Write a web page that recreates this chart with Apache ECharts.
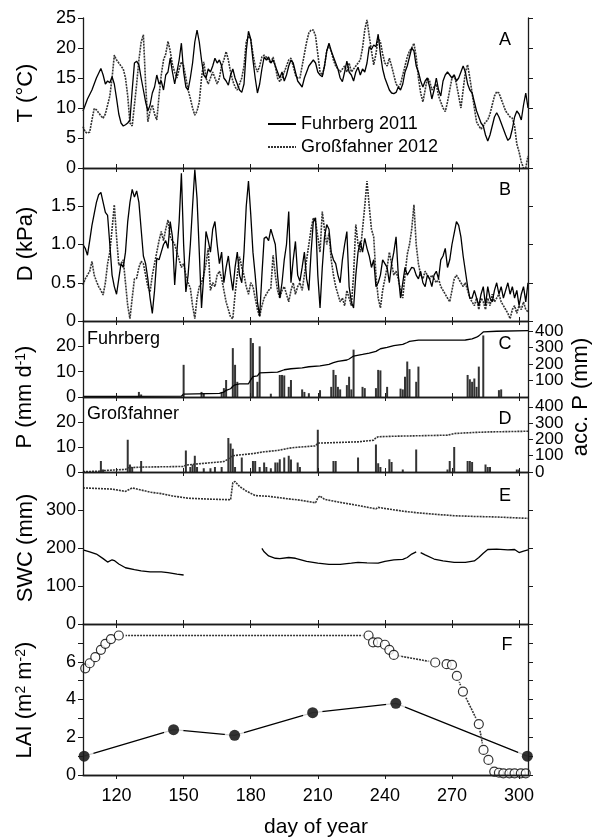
<!DOCTYPE html>
<html>
<head>
<meta charset="utf-8">
<script src="https://cdn.jsdelivr.net/npm/echarts@6/dist/echarts.min.js"></script>
<style>
  html, body { margin: 0; padding: 0; background: #fff; }
  #chart { width: 592px; height: 840px; }
</style>
</head>
<body>
<div id="chart"></div>
<script>
// ---- data (day of year, value) ----
const xTicks = [120, 150, 180, 210, 240, 270, 300];

// A: air temperature (°C)
const tFuhr = [[105,9.5],[106,10.5],[107,11.5],[109,13],[111,15],[113,16.6],[114,15.5],[115,14],[116,14.5],[117,14.2],[118,15.2],[119,14],[120,11.6],[121,9],[122,7.5],[123,7],[124,7.2],[125,7.5],[126,8],[127,13],[128,17.5],[129,17.8],[130,17.2],[131,15],[132,13],[133,11],[134,9.5],[135,10.5],[136,12.5],[137,13.5],[138,15.5],[139,14],[140,14.5],[141,13],[142,15.5],[143,16],[144,18.3],[145,16],[146,14],[147,16],[148,18],[149,20.8],[150,16],[151,13.5],[152,13],[153,15],[154,17.5],[155,21],[156,23],[157,21],[158,18],[159,15.5],[160,15],[161,16.5],[162,16],[163,17],[164,18.3],[165,17.5],[166,18],[167,17],[168,15],[169,14.5],[170,13.8],[171,15.5],[172,16.5],[173,15],[174,14],[175,13],[176,12.6],[177,14],[178,19.5],[179,22.8],[180,21.5],[181,18],[182,15],[183,12.5],[184,14],[185,16.5],[186,18.5],[187,18],[188,18.5],[189,17.5],[190,18],[191,17],[192,16],[193,15],[194,16],[195,14.5],[196,15.5],[197,17],[198,18],[199,17.5],[200,16],[201,14.5],[202,14],[203,13.5],[204,15],[205,16],[206,17],[207,17.5],[208,18],[209,17.5],[210,16],[211,15.5],[212,15.2],[213,17],[214,19.5],[215,20.8],[216,19.5],[217,18.5],[218,17.5],[219,16.5],[220,15],[221,14.4],[222,16],[223,17.8],[224,16],[225,15.5],[226,14.5],[227,16],[228,16.8],[229,15.5],[230,16.5],[231,16],[232,17.5],[233,20.2],[234,19.8],[235,20.5],[236,20.2],[237,22.3],[238,19],[239,16.5],[240,15],[241,14],[242,13],[243,12.5],[244,12.4],[245,12.6],[246,13.5],[247,13],[248,14],[249,16],[250,17],[251,18.5],[252,20],[253,19.5],[254,17],[255,16],[256,14.5],[257,13.5],[258,14.5],[259,15],[260,13.5],[261,11.5],[262,13],[263,15],[264,13],[265,12],[266,14.5],[267,15.5],[268,16],[269,15.5],[270,15],[271,15.5],[272,14.5],[273,15],[274,16],[275,17],[276,16],[277,14],[278,13],[279,12.5],[280,11],[281,9.5],[282,8.5],[283,7.5],[284,7],[285,5.5],[286,4.5],[287,5.5],[288,7],[289,8.5],[290,9.2],[291,8.5],[292,7.5],[293,6.5],[294,5.5],[295,4.6],[296,5],[297,6.5],[298,8.5],[299,9.5],[300,9],[301,8],[302,10.5],[303,12.5],[304,10]];
const tGross = [[105,6.9],[106,6],[107,5.8],[108,6],[109,8],[110,9.9],[111,9.7],[112,9.2],[113,8.7],[114,8.3],[115,9],[116,10.5],[117,12],[118,15],[119,18.8],[120,18],[121,17.5],[122,17],[123,16.5],[124,15],[125,12],[126,7.5],[127,7],[128,10.5],[129,14],[130,18],[131,21],[132,22.2],[133,14],[134,7.7],[135,9.5],[136,10.5],[137,9],[138,8],[139,12],[140,15.5],[141,18],[142,19],[143,21.1],[144,19.5],[145,17.2],[146,16],[147,15],[148,16.5],[149,17.7],[150,17],[151,15],[152,13],[153,11.6],[154,10],[155,8.8],[156,9.5],[157,11],[158,15],[159,17.7],[160,15],[161,14],[162,15],[163,16],[164,15],[165,14],[166,15],[167,17],[168,18],[169,19.4],[170,18],[171,16],[172,14.5],[173,13.5],[174,13],[175,14],[176,15],[177,17],[178,21],[179,22],[180,21.5],[181,19],[182,17],[183,16],[184,17],[185,18.5],[186,18.8],[187,18.5],[188,18],[189,17.5],[190,18.5],[191,17],[192,15],[193,14.4],[194,15],[195,16],[196,17],[197,18],[198,18.3],[199,17],[200,15.5],[201,15],[202,15],[203,17],[204,19],[205,21],[206,22.5],[207,23],[208,23],[209,22],[210,19],[211,16],[212,15.5],[213,17],[214,19.5],[215,20.5],[216,19.5],[217,18],[218,17],[219,16.5],[220,16],[221,16.5],[222,17],[223,16],[224,17.5],[225,16],[226,16.5],[227,17],[228,17.5],[229,18],[230,20],[231,23],[232,24.7],[233,22],[234,19.5],[235,17.2],[236,19],[237,21.6],[238,21],[239,19],[240,17.5],[241,17],[242,18.3],[243,17],[244,15.5],[245,14],[246,13.5],[247,14],[248,15.5],[249,17],[250,18.5],[251,19.5],[252,20],[253,20.8],[254,18.5],[255,15],[256,12.5],[257,11],[258,13],[259,15],[260,14.5],[261,13],[262,13.5],[263,14],[264,12],[265,11],[266,10],[267,9.4],[268,11],[269,13],[270,15],[271,15.5],[272,14],[273,12],[274,10],[275,13],[276,16],[277,17.2],[278,15],[279,12.5],[280,10],[281,7.7],[282,7],[283,6.5],[284,7],[285,7.7],[286,8],[287,9],[288,10.5],[289,12],[290,12.7],[291,12.5],[292,11.5],[293,10.5],[294,9.5],[295,9],[296,8.5],[297,8.3],[298,7],[299,4],[300,2.7],[301,1],[302,0],[303,0],[304,2]];

// B: vapour pressure deficit (kPa)
const dFuhr = [[105,1.0],[106,0.95],[107,0.86],[108,1.05],[109,1.25],[110,1.4],[111,1.55],[112,1.65],[113,1.68],[114,1.55],[115,1.42],[116,1.38],[117,1.0],[118,0.6],[119,0.45],[120,0.35],[121,0.55],[122,0.75],[123,0.7],[124,0.9],[125,1.3],[126,1.55],[127,1.72],[128,1.62],[129,1.7],[130,1.55],[131,1.2],[132,0.85],[133,0.75],[134,0.55],[135,0.3],[136,0.1],[137,0.4],[138,0.82],[139,0.8],[140,0.9],[141,1.0],[142,1.05],[143,0.95],[144,1.3],[145,1.1],[146,0.47],[147,0.9],[148,1.3],[149,1.93],[150,1.0],[151,0.38],[152,0.6],[153,1.0],[154,1.5],[155,1.98],[156,1.6],[157,0.9],[158,0.17],[159,0.6],[160,1.17],[161,1.05],[162,0.9],[163,1.2],[164,1.3],[165,1.0],[166,0.75],[167,0.9],[168,0.5],[169,0.7],[170,0.85],[171,0.6],[172,0.4],[173,0.7],[174,0.9],[175,0.6],[176,0.5],[177,0.9],[178,1.5],[179,1.83],[180,1.4],[181,0.9],[182,0.6],[183,0.25],[184,0.06],[185,0.6],[186,1.08],[187,1.1],[188,1.05],[189,1.2],[190,1.1],[191,1.0],[192,0.6],[193,0.3],[194,0.5],[195,0.8],[196,1.0],[197,1.43],[198,0.5],[199,0.8],[200,1.04],[201,0.6],[202,0.52],[203,0.7],[204,0.9],[205,0.55],[206,0.4],[207,0.9],[208,1.3],[209,1.35],[210,0.6],[211,0.17],[212,0.7],[213,1.1],[214,1.26],[215,1.2],[216,0.9],[217,0.8],[218,0.75],[219,0.6],[220,0.5],[221,0.8],[222,1.0],[223,1.17],[224,0.45],[225,0.25],[226,0.17],[227,0.6],[228,0.9],[229,1.04],[230,0.9],[231,1.08],[232,0.95],[233,0.85],[234,0.7],[235,0.8],[236,0.45],[237,0.5],[238,0.6],[239,0.8],[240,0.75],[241,0.7],[242,0.5],[243,0.75],[244,0.9],[245,1.1],[246,0.6],[247,0.3],[248,0.5],[249,0.7],[250,0.6],[251,0.65],[252,0.7],[253,0.69],[254,0.6],[255,0.55],[256,0.65],[257,0.5],[258,0.45],[259,0.6],[260,0.55],[261,0.45],[262,0.6],[263,0.65],[264,0.55],[265,0.8],[266,0.85],[267,0.95],[268,0.7],[269,0.8],[270,1.0],[271,1.15],[272,1.3],[273,1.25],[274,1.1],[275,0.85],[276,0.65],[277,0.45],[278,0.3],[279,0.3],[280,0.4],[281,0.3],[282,0.2],[283,0.35],[284,0.45],[285,0.2],[286,0.45],[287,0.3],[288,0.25],[289,0.4],[290,0.5],[291,0.35],[292,0.45],[293,0.3],[294,0.4],[295,0.5],[296,0.35],[297,0.45],[298,0.3],[299,0.4],[300,0.2],[301,0.35],[302,0.45],[303,0.25],[304,0.5]];
const dGross = [[105,0.47],[106,0.55],[107,0.6],[108,0.65],[109,0.78],[110,0.6],[111,0.52],[112,0.45],[113,0.4],[114,0.34],[115,0.5],[116,0.75],[117,0.9],[118,1.2],[119,1.52],[120,1.1],[121,0.73],[122,0.75],[123,0.8],[124,0.5],[125,0.2],[126,0.03],[127,0.3],[128,0.55],[129,0.56],[130,0.7],[131,0.78],[132,0.75],[133,0.6],[134,0.45],[135,0.38],[136,0.6],[137,0.75],[138,0.9],[139,1.05],[140,1.17],[141,1.05],[142,1.2],[143,1.32],[144,1.1],[145,1.05],[146,1.0],[147,0.9],[148,0.8],[149,0.7],[150,0.75],[151,0.6],[152,0.5],[153,0.43],[154,0.2],[155,0.03],[156,0.3],[157,0.45],[158,0.5],[159,0.6],[160,0.75],[161,0.95],[162,0.4],[163,0.5],[164,0.45],[165,0.6],[166,0.65],[167,0.56],[168,0.4],[169,0.25],[170,0.15],[171,0.05],[172,0.03],[173,0.35],[174,0.6],[175,0.84],[176,0.7],[177,0.6],[178,0.45],[179,0.35],[180,0.5],[181,0.45],[182,0.3],[183,0.15],[184,0.06],[185,0.2],[186,0.3],[187,0.35],[188,0.4],[189,0.43],[190,0.86],[191,0.6],[192,0.4],[193,0.3],[194,0.4],[195,0.45],[196,0.35],[197,0.25],[198,0.4],[199,0.5],[200,0.35],[201,0.45],[202,0.5],[203,0.4],[204,0.6],[205,0.8],[206,1.0],[207,1.2],[208,1.35],[209,1.3],[210,1.1],[211,0.9],[212,1.43],[213,1.2],[214,1.0],[215,1.15],[216,0.8],[217,0.6],[218,0.45],[219,0.35],[220,0.25],[221,0.3],[222,0.2],[223,0.4],[224,0.3],[225,0.2],[226,0.6],[227,1.26],[228,1.0],[229,0.9],[230,1.2],[231,1.5],[232,1.83],[233,1.5],[234,1.2],[235,1.1],[236,0.6],[237,0.3],[238,0.17],[239,0.4],[240,0.55],[241,0.7],[242,0.9],[243,0.75],[244,0.6],[245,0.65],[246,0.55],[247,0.4],[248,0.3],[249,0.6],[250,0.87],[251,1.0],[252,1.2],[253,1.52],[254,1.0],[255,0.75],[256,0.6],[257,0.55],[258,0.65],[259,0.6],[260,0.55],[261,0.6],[262,0.55],[263,0.5],[264,0.55],[265,0.45],[266,0.4],[267,0.35],[268,0.3],[269,0.25],[270,0.4],[271,0.55],[272,0.6],[273,0.55],[274,0.5],[275,0.45],[276,0.5],[277,0.4],[278,0.3],[279,0.25],[280,0.2],[281,0.3],[282,0.15],[283,0.3],[284,0.25],[285,0.15],[286,0.3],[287,0.2],[288,0.35],[289,0.25],[290,0.3],[291,0.35],[292,0.25],[293,0.2],[294,0.15],[295,0.1],[296,0.03],[297,0.15],[298,0.2],[299,0.1],[300,0.2],[301,0.15],[302,0.25],[303,0.15],[304,0.12]];

// C, D: daily precipitation (mm/d) and accumulated precipitation (mm)
const pFuhr = [[130,2],[131,1],[150,12.7],[158,2],[159,1.5],[167,2],[168,3.5],[169,6.7],[172,19.3],[173,12.7],[174,6],[180,23.3],[181,21.3],[183,6],[184,20],[189,1.3],[193,8.7],[194,8.7],[195,8.5],[197,4],[198,6.7],[203,3],[204,2],[206,1.5],[211,2.7],[216,4],[217,10.7],[218,8.7],[219,4],[220,3],[223,4.7],[224,8],[225,3],[226,18.7],[230,4],[231,3.5],[236,3.5],[237,10.7],[238,10.5],[241,4],[247,3.3],[248,3],[249,8],[250,14],[251,11],[254,6],[255,12],[277,8.7],[278,7],[279,6],[280,7.3],[281,4],[282,12],[284,24.3],[291,2.7],[292,3]];
const accFuhr = [[105,3],[149,5],[150,18],[166,22],[168,30],[169,40],[171,50],[172,65],[173,74],[175,79],[179,80],[180,104],[181,123],[183,128],[184,146],[192,150],[193,155],[195,165],[198,171],[203,176],[206,183],[211,189],[215,197],[217,208],[219,216],[223,224],[224,230],[226,248],[230,258],[233,266],[236,276],[238,292],[241,300],[244,311],[248,318],[250,330],[251,337],[255,344],[276,345],[279,352],[281,362],[282,370],[284,394],[290,398],[304,402]];
const pGross = [[113,4.4],[114,1],[125,12.9],[126,3],[127,2],[131,4.4],[151,8.6],[153,2],[154,3],[155,6.5],[156,2],[159,1.5],[162,1.5],[164,2],[167,2],[170,13.6],[171,11.4],[172,9.3],[173,2],[176,5.8],[181,4.4],[182,4.4],[184,2],[186,3.8],[187,2],[189,1.5],[191,3.8],[192,3.8],[193,5.1],[195,5.8],[197,6.5],[198,5],[201,3.8],[202,2],[210,16.9],[217,4.4],[218,4.4],[228,5.8],[236,11],[237,3.5],[238,2],[242,5.1],[243,4],[248,1],[254,9],[268,1],[269,4.4],[271,10],[277,4.4],[278,4.4],[279,4],[285,3],[286,2],[287,2],[299,1],[300,1]];
const accGross = [[105,3],[112,4],[113,8],[124,16],[125,26],[131,30],[150,34],[151,42],[155,48],[168,64],[170,80],[171,92],[172,100],[176,106],[181,113],[186,124],[192,132],[195,140],[197,146],[201,152],[209,160],[210,177],[228,185],[235,195],[236,210],[237,216],[243,219],[254,222],[268,226],[271,236],[279,242],[287,246],[304,250]];

// E: soil water content (mm); '-' marks missing days
const swcFuhr = [[105,195],[108,190],[111,184],[114,172],[116,163],[118,169],[119,167],[121,158],[124,148],[128,143],[131,140],[135,137],[140,137],[143,135],[147,131],[150,129],[151,'-'],[185,199],[186,190],[188,179],[191,173],[193,172],[197,175],[200,173],[205,165],[210,160],[215,157],[220,157],[225,160],[228,162],[232,161],[237,160],[240,165],[244,169],[248,170],[250,175],[252,184],[254,190],[255,'-'],[256,188],[258,182],[262,171],[266,166],[271,162],[276,162],[280,166],[282,175],[284,186],[286,196],[290,197],[295,195],[298,196],[300,188],[302,192],[304,195]];
const swcGross = [[105,358],[110,357],[118,355],[124,349],[127,358],[130,354],[135,347],[140,343],[145,337],[152,331],[160,329],[165,328],[171,327],[172,372],[173,375],[175,362],[178,350],[182,338],[188,336],[196,330],[202,326],[209,319],[210,332],[211,337],[213,328],[220,320],[228,312],[236,303],[237,307],[240,304],[248,297],[254,293],[262,289],[271,285],[280,283],[288,282],[296,280],[304,278]];

// F: leaf area index (m2 m-2)
const laiFuhr = [[105.5,1.0],[145.5,2.4],[172.8,2.1],[207.7,3.3],[244.9,3.8],[303.7,1.0]];
const laiGross = [[106,5.65],[108,5.92],[110.5,6.24],[113,6.63],[115,6.95],[117.5,7.2],[121,7.39],[232.7,7.39],[234.7,7.03],[236.9,7.03],[240,6.9],[242,6.63],[244,6.36],[262.5,5.96],[267.6,5.87],[270,5.83],[272.2,5.25],[274.9,4.42],[282,2.7],[284.1,1.33],[286.3,0.8],[288.9,0.18],[291,0.12],[293,0.09],[295.7,0.09],[298,0.09],[300.8,0.09],[303,0.09]];

// ---- chart ----
const chart = echarts.init(document.getElementById('chart'));
const FONT = 'Liberation Sans';
const INK = '#1a1a1a';

const panels = [
  { top: 18,  h: 150, min: 0, max: 25,  step: 5,   fmt: v => String(v) },
  { top: 168, h: 153, min: 0, max: 2,   step: 0.5, fmt: v => v === 0 ? '0' : (v >= 2 ? '' : v.toFixed(1)) },
  { top: 321, h: 76,  min: 0, max: 30,  step: 10,  fmt: v => v >= 30 ? '' : String(v) },
  { top: 397, h: 75,  min: 0, max: 30,  step: 10,  fmt: v => v >= 30 ? '' : String(v) },
  { top: 472, h: 152, min: 0, max: 400, step: 100, fmt: v => v >= 400 ? '' : String(v) },
  { top: 624, h: 151, min: 0, max: 8,   step: 1,   fmt: v => (v % 2 === 0 && v < 8) ? String(v) : '' }
];

const axisLine = { show: true, lineStyle: { color: INK, width: 1.3 } };
const tickStyle = { color: INK, width: 1 };
const labelStyle = { fontSize: 18, fontFamily: FONT, color: '#000' };
const accLabel = { margin: 7, fontSize: 17, fontFamily: FONT, color: '#000', hideOverlap: false };

const grid = [], xAxis = [], yAxis = [];
panels.forEach((p, i) => {
  grid.push({ left: 83, width: 445, top: p.top, height: p.h });
  const last = i === panels.length - 1;
  xAxis.push({
    type: 'value', gridIndex: i, position: 'bottom', min: 105, max: 304, z: 10,
    axisLine, splitLine: { show: false },
    axisTick: { show: true, customValues: xTicks, inside: !last, length: 4, lineStyle: tickStyle },
    axisLabel: Object.assign({ show: last, customValues: xTicks, margin: 12 }, labelStyle)
  });
  xAxis.push({
    type: 'value', gridIndex: i, position: 'top', min: 105, max: 304, z: 10,
    axisLine, splitLine: { show: false },
    axisTick: { show: true, customValues: xTicks, inside: true, length: 4, lineStyle: tickStyle },
    axisLabel: { show: false }
  });
  yAxis.push({
    type: 'value', gridIndex: i, position: 'left', min: p.min, max: p.max, interval: p.step, z: 10,
    axisLine, splitLine: { show: false },
    axisTick: { show: true, length: 5, lineStyle: tickStyle },
    axisLabel: Object.assign({ formatter: p.fmt, margin: 7, showMinLabel: true, hideOverlap: false }, labelStyle)
  });
  if (i === 2 || i === 3) {
    // accumulated precipitation axis (labels 100-400)
    yAxis.push({
      type: 'value', gridIndex: i, position: 'right', min: 0, max: 460, interval: 100, z: 10,
      axisLine, splitLine: { show: false },
      axisTick: { show: true, length: 5, lineStyle: tickStyle },
      axisLabel: Object.assign({
        showMinLabel: false, showMaxLabel: false,
        formatter: v => (v % 100 === 0 && v > 0 && v <= 400) ? String(v) : ''
      }, accLabel)
    });
  } else {
    yAxis.push({
      type: 'value', gridIndex: i, position: 'right', min: p.min, max: p.max, interval: p.step, z: 10,
      axisLine, splitLine: { show: false },
      axisTick: { show: true, length: 5, lineStyle: tickStyle },
      axisLabel: { show: false }
    });
  }
});
// extra right axis on panel D that only carries the "0" of accumulated P
yAxis.push({
  type: 'value', gridIndex: 3, position: 'right', min: 0, max: 460, interval: 100, z: 10,
  axisLine: { show: false }, axisTick: { show: false }, splitLine: { show: false },
  axisLabel: Object.assign({ showMinLabel: true, showMaxLabel: false, formatter: v => v === 0 ? '0' : '' }, accLabel)
});

const solid = { color: '#000', width: 1.3 };
const dotted = { color: '#333', width: 1.6, type: [2, 1] };
const line = (name, xi, yi, data, style, z) => ({
  name, type: 'line', xAxisIndex: xi, yAxisIndex: yi, data, symbol: 'none',
  lineStyle: style, itemStyle: { color: style.color }, z: z || 2, silent: true, connectNulls: false
});
const bars = (xi, yi, data) => ({
  type: 'bar', xAxisIndex: xi, yAxisIndex: yi, data, barWidth: 2,
  itemStyle: { color: '#333' }, silent: true
});

const series = [
  line('Großfahner 2012', 0, 0, tGross, dotted),
  line('Fuhrberg 2011', 0, 0, tFuhr, solid, 3),
  line('D Großfahner', 2, 2, dGross, dotted),
  line('D Fuhrberg', 2, 2, dFuhr, solid, 3),
  bars(4, 4, pFuhr),
  line('acc Fuhrberg', 4, 5, accFuhr, solid, 3),
  bars(6, 6, pGross),
  line('acc Großfahner', 6, 7, accGross, dotted, 3),
  line('SWC Großfahner', 8, 8, swcGross, dotted),
  line('SWC Fuhrberg', 8, 8, swcFuhr, solid),
  line('LAI Fuhrberg', 10, 10, laiFuhr, solid),
  line('LAI Großfahner', 10, 10, laiGross, dotted),
  // white halos give the gaps between line and marker
  { type: 'scatter', xAxisIndex: 10, yAxisIndex: 10, data: laiFuhr, symbolSize: 20, itemStyle: { color: '#fff' }, z: 3, silent: true },
  { type: 'scatter', xAxisIndex: 10, yAxisIndex: 10, data: laiGross, symbolSize: 14, itemStyle: { color: '#fff' }, z: 3, silent: true },
  { type: 'scatter', xAxisIndex: 10, yAxisIndex: 10, data: laiFuhr, symbolSize: 11, itemStyle: { color: '#000' }, z: 4, silent: true },
  { type: 'scatter', xAxisIndex: 10, yAxisIndex: 10, data: laiGross, symbolSize: 9,
    itemStyle: { color: '#fff', borderColor: '#000', borderWidth: 1.2 }, z: 4, silent: true }
];

const title = (x, y, text, rich) => ({
  type: 'text', x, y, rotation: Math.PI / 2, z: 20,
  style: { text, fontSize: 22, fontFamily: FONT, fill: '#000', align: 'center', verticalAlign: 'middle', rich }
});
const sup = { s: { fontSize: 14, fontFamily: FONT, verticalAlign: 'top' } };
const label = (x, y, text, align) => ({
  type: 'text', x, y, z: 20,
  style: { text, fontSize: 18, fontFamily: FONT, fill: '#000', align: align || 'center', verticalAlign: 'middle' }
});

const graphic = [
  title(26, 93, 'T (°C)'),
  title(26, 244, 'D (kPa)'),
  title(25, 397, 'P (mm d{s|-1})', sup),
  title(26, 548, 'SWC (mm)'),
  title(25, 700, 'LAI (m{s|2} m{s|-2})', sup),
  title(581, 397, 'acc. P (mm)'),
  label(505, 40, 'A'), label(505, 190, 'B'), label(505, 344, 'C'),
  label(505, 419, 'D'), label(505, 496, 'E'), label(507, 645, 'F'),
  label(87, 339, 'Fuhrberg', 'left'),
  label(87, 414, 'Großfahner', 'left'),
  { type: 'text', x: 316, y: 827, z: 20,
    style: { text: 'day of year', fontSize: 21, fontFamily: FONT, fill: '#000', align: 'center', verticalAlign: 'middle' } }
];

chart.setOption({
  animation: false,
  backgroundColor: '#fff',
  grid, xAxis, yAxis, series, graphic,
  legend: {
    data: ['Fuhrberg 2011', 'Großfahner 2012'],
    orient: 'vertical', left: 262, top: 110,
    itemWidth: 28, itemHeight: 12, itemGap: 5, selectedMode: false,
    itemStyle: { opacity: 0 },
    textStyle: { fontSize: 18, fontFamily: FONT, color: '#000' }
  }
});
</script>
</body>
</html>
